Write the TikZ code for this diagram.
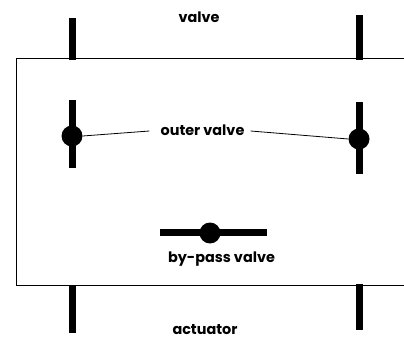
\documentclass[tikz,border=0pt]{standalone}
\usepackage{fontspec}
\setmainfont{Poppins}
\usepackage{tikz}
\usetikzlibrary{positioning}

\tikzset{
    stem/.style={fill=black, inner sep=0pt, minimum width=7pt},
    hub/.style={circle, fill=black, inner sep=0pt, minimum size=21pt},
    tag/.style={font=\fontsize{14.4}{16}\selectfont\bfseries, inner sep=0pt},
}

\begin{document}
\begin{tikzpicture}[x=1pt, y=-1pt]
    \useasboundingbox (0,0) rectangle (404,339);

    % Housing, open at the right side
    \coordinate (topright) at (404,58.5);
    \coordinate (topleft) at (16,58.5);
    \coordinate (bottomleft) at (16,285.5);
    \coordinate (bottomright) at (404,285.5);
    \draw[line width=.8pt] (topright) -- (topleft) -- (bottomleft) -- (bottomright);

    % Stems outside the housing
    \node (valveleft) [stem, minimum height=42pt] at (72,39) {};
    \node (valveright) [stem, minimum height=45pt] at (359,37.5) {};
    \node (actuatorleft) [stem, minimum height=48pt] at (72,309) {};
    \node (actuatorright) [stem, minimum height=46pt] at (359,307) {};

    % Outer valves
    \node (outerstemleft) [stem, minimum height=68pt] at (72,134) {};
    \node (outerstemright) [stem, minimum height=72pt] at (359,138) {};
    \node (outerleft) [hub] at (72,136) {};
    \node (outerright) [hub] at (359,139) {};

    % By-pass valve
    \node (bypassstem) [stem, minimum width=107pt, minimum height=7pt] at (213,232) {};
    \node (bypass) [hub] at (210,233) {};

    % Labels
    \node (valve) [tag] at (199,17) {valve};
    \node (outer) [tag] at (202.5,130) {outer valve};
    \node (bypasslabel) [tag] at (221.5,259) {by-pass valve};
    \node (actuator) [tag] at (205,329.5) {actuator};

    % Leaders to the outer valves
    \draw[line width=.8pt] (outer.west) ++(-11,1) -- (outerleft.east);
    \draw[line width=.8pt] (outer.east) ++(6,1) -- (outerright.west);
\end{tikzpicture}
\end{document}
